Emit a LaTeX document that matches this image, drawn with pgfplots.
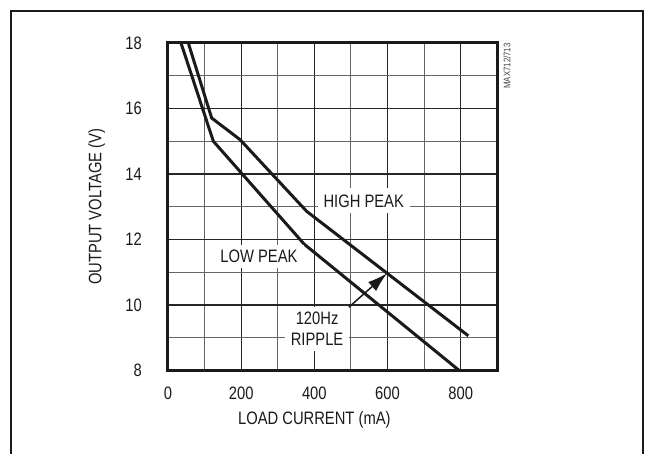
\documentclass[border=0pt]{standalone}
\usepackage{fontspec}
\setmainfont{Liberation Sans}[FakeStretch=0.82]
\usepackage{pgfplots}
\pgfplotsset{compat=1.18}
\usetikzlibrary{arrows.meta}

\definecolor{ink}{HTML}{1A1A1A}

\begin{document}
\begin{tikzpicture}[x=1pt,y=1pt]
  \path[use as bounding box] (0,0) rectangle (649,454);
  % outer frame, open at the bottom
  \draw[line width=2pt, ink] (11,-5) -- (11,443) -- (643,443) -- (643,-5);

  \begin{axis}[
    at={(168pt,83.5pt)}, anchor=south west,
    scale only axis,
    width=329.3pt, height=327.5pt,
    xmin=0, xmax=900, ymin=8, ymax=18,
    xtick={0,200,400,600,800},
    minor xtick={100,300,500,700,900},
    ytick={8,10,12,14,16,18},
    minor ytick={9,11,13,15,17},
    grid=both,
    major grid style={line width=1.1pt, black!85},
    minor grid style={line width=1.1pt, black!60},
    major tick length=0pt, minor tick length=0pt,
    axis line style={line width=3pt, ink},
    /pgf/number format/assume math mode=true,
    ticklabel style={font=\fontsize{18}{20}\selectfont, text=ink, inner sep=0pt},
    xticklabel style={anchor=north, yshift=-16pt},
    yticklabel style={anchor=east, xshift=-26pt},
    xlabel={LOAD CURRENT (mA)},
    ylabel={OUTPUT VOLTAGE (V)},
    label style={font=\fontsize{18}{20}\selectfont, text=ink, inner sep=0pt},
    xlabel style={at={(axis description cs:0.4444,-0.1257)}, anchor=north},
    ylabel style={at={(axis description cs:-0.2165,0.5)}, anchor=center},
    clip=true,
  ]
    % LOW PEAK
    \addplot[ink, line width=3pt, line join=miter] coordinates {
      (35.5,18) (123.9,15.0) (372,11.86) (796,8.0)
    };
    % HIGH PEAK
    \addplot[ink, line width=3pt, line join=miter] coordinates {
      (55.5,18) (119.3,15.71) (196.8,15.05) (379,12.86) (820.8,9.06)
    };

    \draw[ink, line width=1.5pt, -{Latex[length=20pt,width=12pt]}]
      (axis cs:481,9.8) -- (axis cs:599,10.97);

    \node[fill=white, text=ink, font=\fontsize{18}{20}\selectfont,
          inner xsep=6pt, inner ysep=6pt] at (axis cs:535,13.18) {HIGH PEAK};
    \node[fill=white, text=ink, font=\fontsize{18}{20}\selectfont,
          inner xsep=6pt, inner ysep=5pt] at (axis cs:248.7,11.48) {LOW PEAK};
    \node[fill=white, text=ink, font=\fontsize{18}{21}\selectfont, align=center,
          inner xsep=6pt, inner ysep=5pt] at (axis cs:407.5,9.27) {120Hz\\RIPPLE};
  \end{axis}

  \node[rotate=90, anchor=east, inner sep=0pt, text=black!75,
        font=\fontsize{9.5}{10}\selectfont] at (507,410.7) {MAX712/713};
\end{tikzpicture}
\end{document}
